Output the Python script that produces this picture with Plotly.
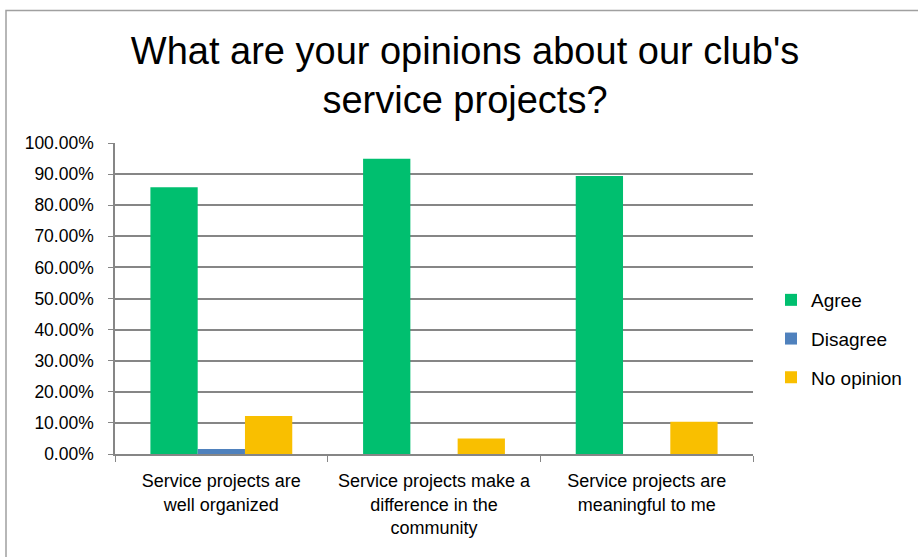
import plotly.graph_objects as go

categories = [
    "Service projects are<br>well organized",
    "Service projects make a<br>difference in the<br>community",
    "Service projects are<br>meaningful to me",
]
agree = [0.858, 0.949, 0.894]
disagree = [0.016, 0.0, 0.0]
no_opinion = [0.122, 0.050, 0.104]
series_names = ["Agree", "Disagree", "No opinion"]
colors = ["#00BF6F", "#4F81BD", "#F9BF00"]

W, H = 918, 557
L, R, T, B = 115, 753, 143, 454

fig = go.Figure()
for name, vals, col in zip(series_names, [agree, disagree, no_opinion], colors):
    fig.add_trace(go.Bar(name=name, x=categories, y=vals, legendgroup=name,
                         marker=dict(color=col, line=dict(width=0))))

pw, ph = R - L, B - T
def px2x(p): return (p - L) / pw
def py2y(p): return (B - p) / ph

fig.update_layout(
    width=W, height=H,
    margin=dict(l=L, r=W - R, t=T, b=H - B, autoexpand=False),
    paper_bgcolor="white", plot_bgcolor="white",
    barmode="group", bargap=0.333, bargroupgap=0,
    font=dict(family="Liberation Sans, Arial", color="#000000", size=18),
    title=dict(
        text="What are your opinions about our club's<br>service projects?",
        x=465 / W, xanchor="center", xref="container",
        y=1 - 64 / H, yanchor="middle", yref="container",
        font=dict(family="Liberation Sans, Arial", size=38, color="#000000"),
    ),
    legend=dict(
        x=px2x(771), xanchor="left", y=py2y(339), yanchor="middle",
        font=dict(size=19), tracegroupgap=11, itemwidth=30,
        bgcolor="rgba(0,0,0,0)",
    ),
    showlegend=True,
    xaxis=dict(
        showgrid=False, showline=True, linecolor="#868686", linewidth=1.5,
        ticks="outside", tickson="boundaries", ticklen=6, tickcolor="#868686",
        tickfont=dict(size=18), fixedrange=True, ticklabelstandoff=10,
    ),
    yaxis=dict(
        range=[0, 1.0], dtick=0.1, tick0=0, tickformat=".2%",
        showgrid=True, gridcolor="#868686", gridwidth=1.5,
        showline=True, linecolor="#868686", linewidth=1.5,
        ticks="outside", ticklen=5, tickcolor="#868686",
        tickfont=dict(size=17.5), zeroline=False, fixedrange=True,
        ticklabelstandoff=11,
    ),
    shapes=[dict(
        type="rect", xref="paper", yref="paper",
        x0=px2x(6), x1=px2x(1000), y0=py2y(700), y1=py2y(10.5),
        line=dict(color="#A0A0A0", width=1.5), fillcolor="rgba(0,0,0,0)", layer="below",
    )],
)

fig.write_html("out.html", config={"displayModeBar": False})

with open("out.html", "r", encoding="utf-8") as f:
    html = f.read()
html = html.replace("<head>", "<head><style>html,body{margin:0;padding:0;overflow:hidden;}</style>", 1)
with open("out.html", "w", encoding="utf-8") as f:
    f.write(html)
